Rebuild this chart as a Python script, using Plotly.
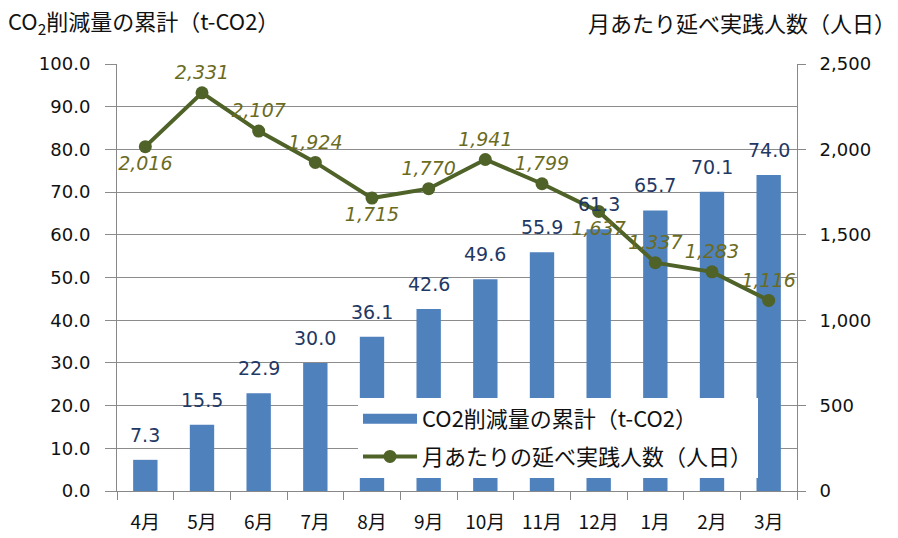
import plotly.graph_objects as go

months = ["4月", "5月", "6月", "7月", "8月", "9月", "10月", "11月", "12月", "1月", "2月", "3月"]
co2_cum = [7.3, 15.5, 22.9, 30.0, 36.1, 42.6, 49.6, 55.9, 61.3, 65.7, 70.1, 74.0]
persons = [2016, 2331, 2107, 1924, 1715, 1770, 1941, 1799, 1637, 1337, 1283, 1116]
person_text_pos = ["bottom center", "top center", "top center", "top center", "bottom center",
                   "top center", "top center", "top center", "bottom center", "top center",
                   "top center", "top center"]
left_ticks = [0, 10, 20, 30, 40, 50, 60, 70, 80, 90, 100]
right_ticks = [0, 500, 1000, 1500, 2000, 2500]

NFONT = "DejaVu Sans, sans-serif"
JFONT = "Noto Sans CJK JP, sans-serif"
BAR_COLOR = "#4F81BD"
LINE_COLOR = "#4F6228"

L, R, T, B = 117, 101, 64, 47
W, H = 898, 538
pw, ph = W - L - R, H - T - B

fig = go.Figure()
fig.add_trace(go.Bar(
    x=months, y=co2_cum, name="CO2削減量の累計（t-CO2）",
    marker=dict(color=BAR_COLOR, line=dict(width=0)),
    yaxis="y", showlegend=False, hoverinfo="x+y",
))
# legend entry with a wide rectangular swatch for the bar series
fig.add_trace(go.Scatter(
    x=[None], y=[None], mode="lines", name="CO2削減量の累計（t-CO2）",
    line=dict(color=BAR_COLOR, width=12), yaxis="y", legendgroup="a",
))
fig.add_trace(go.Scatter(
    x=months, y=persons, name="月あたりの延べ実践人数（人日）",
    mode="lines+markers+text",
    line=dict(color=LINE_COLOR, width=4),
    marker=dict(color=LINE_COLOR, size=13),
    text=[f"{v:,}" for v in persons], textposition=person_text_pos,
    textfont=dict(family=NFONT, size=19, color="#6B6B1E", style="italic"),
    cliponaxis=False, yaxis="y2", legendgroup="b",
))

annotations = [
    dict(x=m, y=v, xref="x", yref="y", text=f"{v:.1f}", showarrow=False,
         yanchor="bottom", yshift=12,
         font=dict(family=NFONT, size=19, color="#1F3864"))
    for m, v in zip(months, co2_cum)
]
annotations += [
    dict(text="CO<sub>2</sub>削減量の累計（t-CO2）", x=(6 - L) / pw, y=(H - B - 22) / ph,
         xref="paper", yref="paper",
         showarrow=False, font=dict(family=JFONT, size=22, color="#111"),
         xanchor="left", yanchor="middle"),
    dict(text="月あたり延べ実践人数（人日）", x=(898 - L) / pw, y=(H - B - 22) / ph,
         xref="paper", yref="paper",
         showarrow=False, font=dict(family=JFONT, size=22, color="#111"),
         xanchor="right", yanchor="middle"),
]

fig.update_layout(
    width=W, height=H,
    margin=dict(l=L, r=R, t=T, b=B, autoexpand=False),
    paper_bgcolor="white", plot_bgcolor="white",
    font=dict(family=NFONT, size=16, color="#111"),
    bargap=0.57,
    showlegend=True,
    legend=dict(x=(358 - L) / pw, y=(H - B - 398) / ph, xanchor="left", yanchor="top",
                bgcolor="white", borderwidth=0,
                font=dict(family=JFONT, size=22, color="#111"),
                tracegroupgap=6, itemwidth=54),
    xaxis=dict(range=[-0.5, len(months) - 0.5], autorange=False,
               showgrid=False, showline=True, linecolor="#888", linewidth=1,
               ticks="outside", tickson="boundaries", ticklen=8, tickcolor="#888",
               tickfont=dict(family=JFONT, size=19, color="#111"),
               ticklabelstandoff=14, automargin=False),
    yaxis=dict(range=[0, 100], tickvals=left_ticks, tickformat=".1f",
               showgrid=True, gridcolor="#8C8C8C", gridwidth=1,
               showline=True, linecolor="#888", linewidth=1,
               ticks="outside", ticklen=11, tickcolor="#8C8C8C",
               tickfont=dict(family=NFONT, size=18, color="#111"),
               ticklabelstandoff=11, zeroline=False, automargin=False),
    yaxis2=dict(range=[0, 2500], tickvals=right_ticks, tickformat=",",
                overlaying="y", side="right", showgrid=False,
                showline=True, linecolor="#888", linewidth=1,
                ticks="outside", ticklen=8, tickcolor="#888",
                tickfont=dict(family=NFONT, size=18, color="#111"),
                ticklabelstandoff=10, zeroline=False, automargin=False),
    annotations=annotations,
)

fig.write_html("out.html", config={"displayModeBar": False},
               post_script="document.body.style.margin='0';document.body.style.overflow='hidden';")
